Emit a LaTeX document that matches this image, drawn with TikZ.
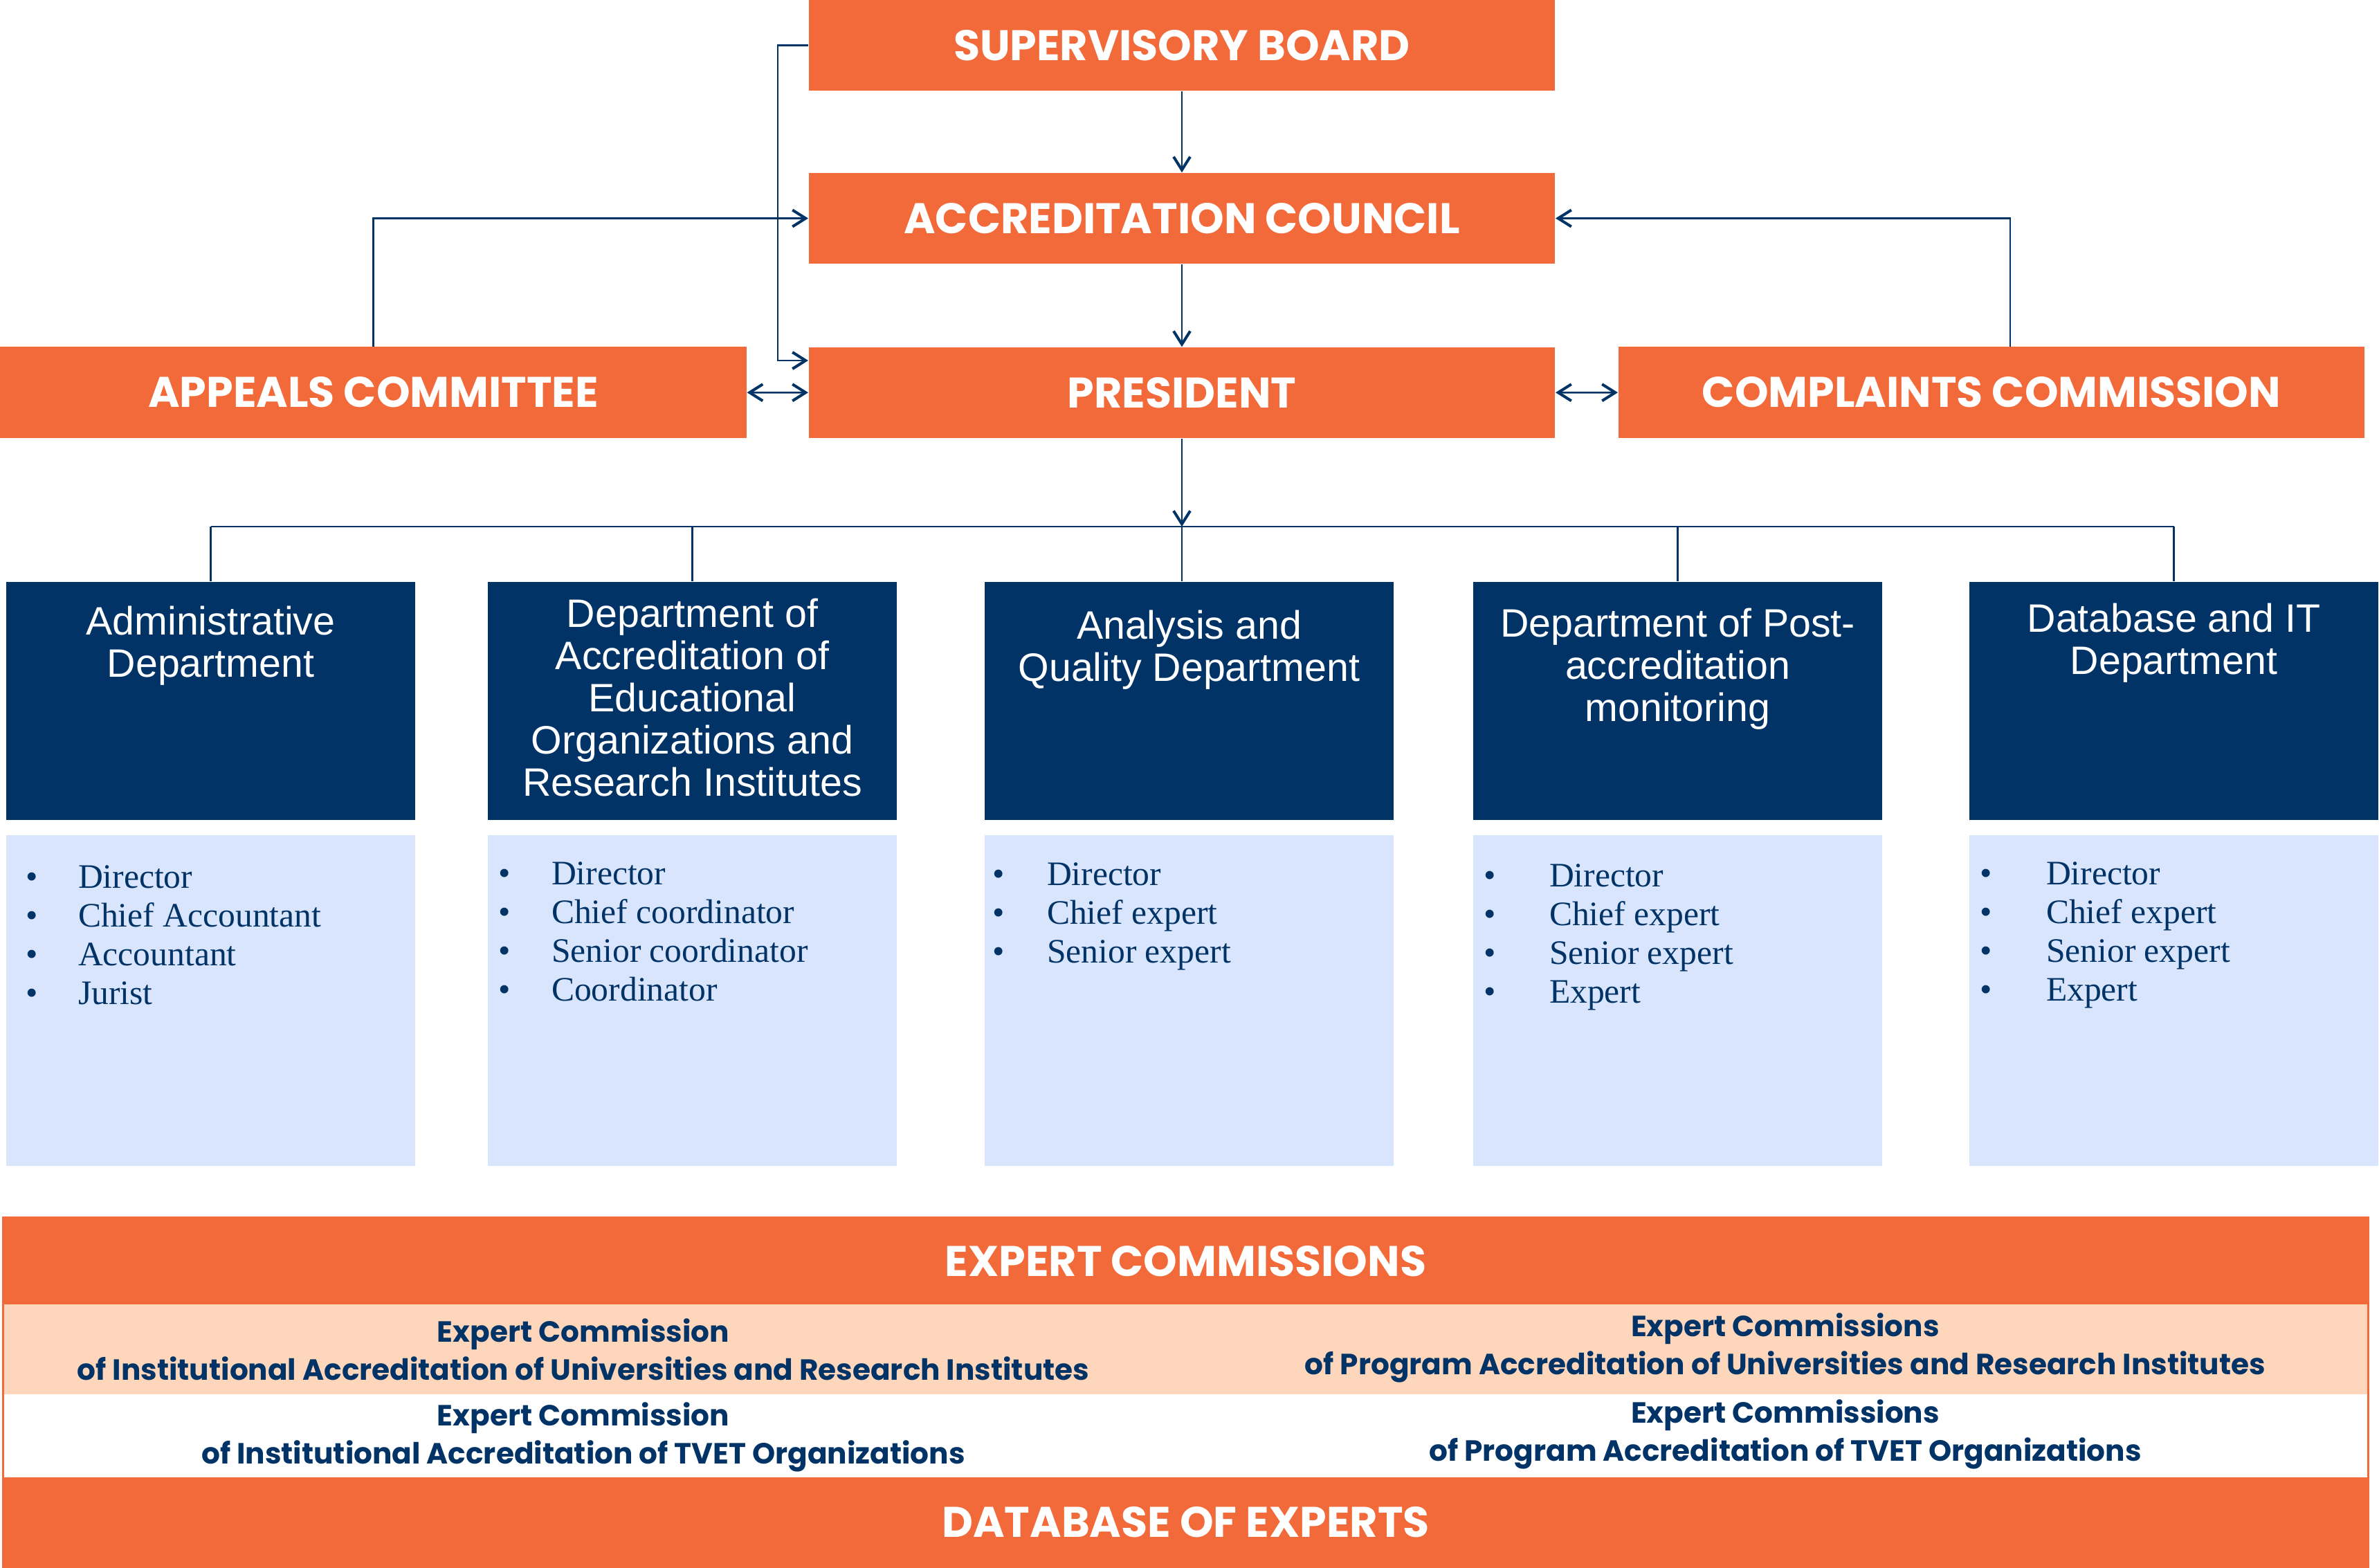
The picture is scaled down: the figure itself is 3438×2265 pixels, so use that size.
\documentclass[tikz,border=0pt]{standalone}
\usepackage{fontspec}
\setmainfont{Liberation Serif}
\setsansfont{Liberation Sans}
\newfontfamily\headfont{Poppins}
\usetikzlibrary{positioning,calc,arrows.meta}

\definecolor{acorange}{HTML}{F26A3A}
\definecolor{acnavy}{HTML}{023366}
\definecolor{rolebg}{HTML}{D9E5FC}
\definecolor{rowpeach}{HTML}{FDD6BC}

\newcommand{\rolelist}[2]{\begin{tabular}{@{}l@{\hspace{#1}}l@{}}#2\end{tabular}}

\tikzset{
  headbox/.style={fill=acorange, text=white, inner sep=0, minimum width=10.78cm, minimum height=1.31cm,
    font=\headfont\bfseries\fontsize{17.6}{20}\selectfont},
  bandbox/.style={headbox, minimum width=34.15cm, minimum height=1.25cm},
  deptbox/.style={fill=acnavy, inner sep=0, minimum width=5.91cm, minimum height=3.44cm},
  depttitle/.style={anchor=north, text=white, align=center, inner sep=0,
    font=\sffamily\fontsize{16.3}{17.4}\selectfont},
  rolebox/.style={fill=rolebg, inner sep=0, minimum width=5.91cm, minimum height=4.78cm},
  roletext/.style={anchor=north west, text=acnavy, inner sep=0, font=\fontsize{14.1}{15.9}\selectfont},
  rowbox/.style={inner sep=0, minimum width=34.15cm},
  ectext/.style={text=acnavy, align=center, inner sep=0,
    font=\headfont\bfseries\fontsize{12}{15.7}\selectfont},
  link/.style={draw=acnavy, line width=0.25mm}
}

\begin{document}
\begin{tikzpicture}[x=0.01cm, y=-0.01cm, >={Straight Barb[length=1.9mm,width=2.4mm,line width=0.4mm]}]
    \useasboundingbox (0,0) rectangle (3438,2265);

    \node[headbox] (sb) at (1708,65.5) {SUPERVISORY BOARD};
    \node[headbox] (ac) at (1708,315.5) {ACCREDITATION COUNCIL};
    \node[headbox] (pr) at (1708,567.5) {PRESIDENT};
    \node[headbox] (ap) at (539.5,567) {APPEALS COMMITTEE};
    \node[headbox] (cm) at (2878,567) {COMPLAINTS COMMISSION};

    \draw[link,->] (sb) -- (ac);
    \draw[link,->] (ac) -- (pr);
    \coordinate (sbbend) at (1124,521);
    \draw[link,->] (sb.west) -| (sbbend) -- (sbbend -| pr.west);
    \draw[link,->] (ap.north) |- (ac.west);
    \draw[link,->] ($(cm.north)+(27,0)$) |- (ac.east);
    \draw[link,<->] (ap) -- (pr);
    \draw[link,<->] (pr) -- (cm);

    \node[deptbox] (d1) at (304.5,1013) {};
    \node[deptbox] (d2) at (1000.5,1013) {};
    \node[deptbox] (d3) at (1718.5,1013) {};
    \node[deptbox] (d4) at (2424.5,1013) {};
    \node[deptbox] (d5) at (3141.5,1013) {};
    \node[depttitle] (t1) at (304.5,875) {Administrative\\Department};
    \node[depttitle] (t2) at (1000.5,864) {Department of\\Accreditation of\\Educational\\Organizations and\\Research Institutes};
    \node[depttitle] (t3) at (1718.5,881) {Analysis and\\Quality Department};
    \node[depttitle] (t4) at (2424.5,878) {Department of Post-\\accreditation\\monitoring};
    \node[depttitle] (t5) at (3141.5,871) {Database and IT\\Department};

    \coordinate (bus) at (1708,761);
    \draw[link,->] (pr) -- (bus);
    \draw[link] (d1.north |- bus) -- (d5.north |- bus);
    \draw[link] (d1.north |- bus) -- (d1.north);
    \draw[link] (d2.north |- bus) -- (d2.north);
    \draw[link] (bus) -- (bus |- d3.north);
    \draw[link] (d4.north |- bus) -- (d4.north);
    \draw[link] (d5.north |- bus) -- (d5.north);

    \node[rolebox] (r1) at (304.5,1446) {};
    \node[rolebox] (r2) at (1000.5,1446) {};
    \node[rolebox] (r3) at (1718.5,1446) {};
    \node[rolebox] (r4) at (2424.5,1446) {};
    \node[rolebox] (r5) at (3141.5,1446) {};
    \node[roletext] (l1) at (37,1244) {\rolelist{5.8mm}{\textbullet & Director\\ \textbullet & Chief Accountant\\ \textbullet & Accountant\\ \textbullet & Jurist}};
    \node[roletext] (l2) at (720,1239) {\rolelist{5.9mm}{\textbullet & Director\\ \textbullet & Chief coordinator\\ \textbullet & Senior coordinator\\ \textbullet & Coordinator}};
    \node[roletext] (l3) at (1434,1240) {\rolelist{6.1mm}{\textbullet & Director\\ \textbullet & Chief expert\\ \textbullet & Senior expert}};
    \node[roletext] (l4) at (2144,1242) {\rolelist{7.7mm}{\textbullet & Director\\ \textbullet & Chief expert\\ \textbullet & Senior expert\\ \textbullet & Expert}};
    \node[roletext] (l5) at (2861,1239) {\rolelist{7.8mm}{\textbullet & Director\\ \textbullet & Chief expert\\ \textbullet & Senior expert\\ \textbullet & Expert}};

    \node[bandbox] (ec) at (1713.5,1822.5) {EXPERT COMMISSIONS};
    \node[rowbox, fill=rowpeach, minimum height=1.30cm] (rowa) at (1713.5,1950) {};
    \node[rowbox, fill=white, minimum height=1.20cm] (rowb) at (1713.5,2075) {};
    \node[bandbox, minimum height=1.30cm] (db) at (1713.5,2200) {DATABASE OF EXPERTS};
    \draw[acorange, line width=0.3mm] (ec.north west) rectangle (db.south east);

    \node[ectext] (ea) at (843,1950) {Expert Commission\\of Institutional Accreditation of Universities and Research Institutes};
    \node[ectext] (eb) at (2580,1948) {Expert Commissions\\of Program Accreditation of Universities and Research Institutes};
    \node[ectext] (ecc) at (843,2077) {Expert Commission\\of Institutional Accreditation of TVET Organizations};
    \node[ectext] (ed) at (2580,2073) {Expert Commissions\\of Program Accreditation of TVET Organizations};
\end{tikzpicture}
\end{document}
